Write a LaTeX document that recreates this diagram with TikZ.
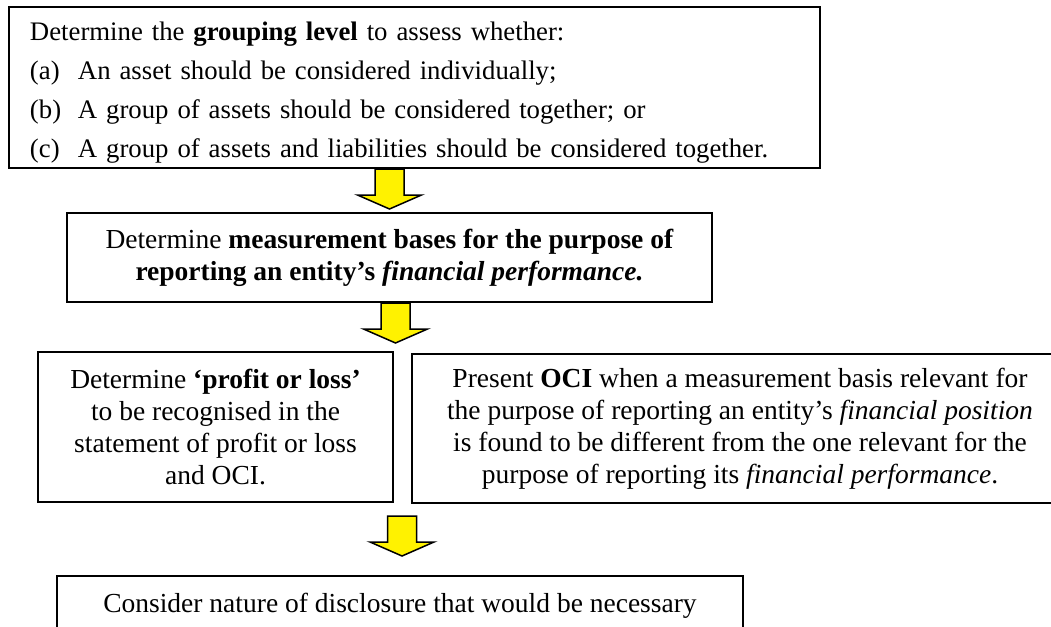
\documentclass[tikz,border=0pt]{standalone}
\usepackage{fontspec}
\setmainfont{Liberation Serif}
\usetikzlibrary{calc}

\tikzset{
  stepbox/.style={draw, line width=0.8pt, inner sep=0pt, align=center,
    font=\fontsize{11}{12.8}\selectfont},
  fatarrow/.pic={\draw[fill=yellow, line width=0.6pt, line join=miter]
    (-14.5,0) -- (14.5,0) -- (14.5,26) -- (32,26) -- (0,40) -- (-32,26) -- (-14.5,26) -- cycle;}
}
\newcommand{\itemlbl}[1]{\makebox[19.2pt][l]{#1}}

\begin{document}
\begin{tikzpicture}[x=0.4pt, y=-0.4pt]
\useasboundingbox (0,0) rectangle (1051,626);
\clip (0,0) rectangle (1051,626);

%Level 1
\node[stepbox, align=left, minimum width=324.4pt, minimum height=64.4pt, text width=307.6pt,
  font=\fontsize{10.7}{15.6}\selectfont] (grp) at (414.5,87.5)
  {\rule{0pt}{11.4pt}Determine the \textbf{grouping level} to assess whether:\\
   \itemlbl{(a)}An asset should be considered individually;\\
   \itemlbl{(b)}A group of assets should be considered together; or\\
   \itemlbl{(c)}A group of assets and liabilities should be considered together.};

%Level 2
\node[stepbox, minimum width=258pt, minimum height=35.6pt] (meas) at (389.5,257.5)
  {Determine \textbf{measurement bases for the purpose of}\\
   \textbf{reporting an entity’s \textit{financial performance.}}};

%Level 3
\node[stepbox, minimum width=142pt, minimum height=60pt] (pl) at (215.5,427)
  {Determine \textbf{‘profit or loss’}\\ to be recognised in the\\
   statement of profit or loss\\ and OCI.};
\node[stepbox, minimum width=262.4pt, minimum height=59.6pt] (oci) at (740,428.5)
  {Present \textbf{OCI} when a measurement basis relevant for\\
   the purpose of reporting an entity’s \textit{financial position}\\
   is found to be different from the one relevant for the\\
   purpose of reporting its \textit{financial performance}.};

%Level 4
\node[stepbox, anchor=north, minimum width=274.4pt, inner ysep=7pt, text depth=40pt] (disc) at (400,575)
  {Consider nature of disclosure that would be necessary};

%Arrows
\pic at (grp.south -| meas.north) {fatarrow};
\pic at ($(meas.south)+(6,0)$) {fatarrow};
\pic at ($(disc.north)+(2,-59)$) {fatarrow};

\end{tikzpicture}
\end{document}
